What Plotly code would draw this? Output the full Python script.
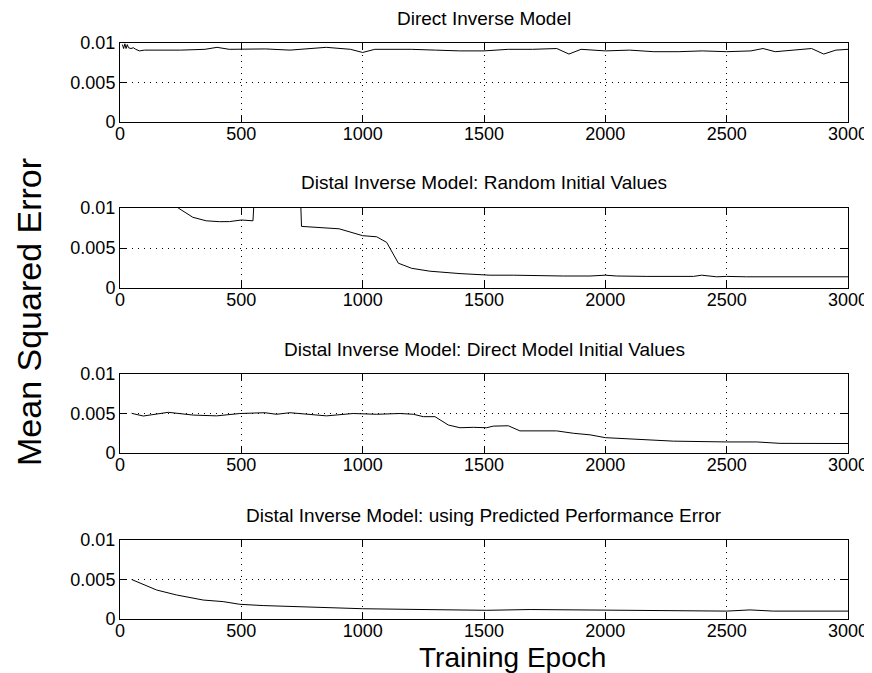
import plotly.graph_objects as go

# The page body adds an 8px offset; the figure is sized and laid out so that
# its pixels land where the reference shows them inside the 872x673 window.
OFF = 8
W, H = 872 - OFF, 673 - OFF

titles = [
    "Direct Inverse Model",
    "Distal Inverse Model: Random Initial Values",
    "Distal Inverse Model: Direct Model Initial Values",
    "Distal Inverse Model: using Predicted Performance Error",
]

x_direct = [10, 15, 20, 25, 30, 35, 45, 55, 65, 80, 100, 150, 250, 350, 400, 450, 500, 600, 700, 800,
            850, 950, 1000, 1050, 1200, 1300, 1400, 1500, 1600, 1700, 1800, 1850, 1900, 2000, 2100,
            2200, 2300, 2400, 2500, 2600, 2650, 2700, 2800, 2850, 2900, 2950, 3000]
y_direct = [0.0098, 0.0093, 0.0099, 0.0093, 0.0098, 0.0094, 0.0093, 0.0094, 0.0092, 0.0090, 0.0091,
            0.0091, 0.0091, 0.0092, 0.00945, 0.0092, 0.0092, 0.00925, 0.0091, 0.0093, 0.00945, 0.0092,
            0.0088, 0.0092, 0.0092, 0.0091, 0.0090, 0.0090, 0.0092, 0.0092, 0.0093, 0.0086, 0.0092,
            0.0090, 0.0091, 0.0089, 0.0089, 0.0090, 0.0089, 0.0090, 0.0093, 0.0089, 0.0092, 0.0093,
            0.0086, 0.0091, 0.0092]

x_random = [50, 100, 200, 240, 300, 355, 410, 451, 500, 548, 558, 650, 742, 748, 903, 1000, 1058,
            1099, 1147, 1202, 1277, 1401, 1525, 1621, 1827, 1937, 2000, 2047, 2171, 2363, 2397,
            2459, 2500, 2582, 3000]
y_random = [0.016, 0.013, 0.011, 0.0100, 0.00884, 0.0084, 0.00829, 0.0083, 0.0085, 0.0084, 0.014,
            0.015, 0.013, 0.0077, 0.0074, 0.00654, 0.0064, 0.0057, 0.0031, 0.00246, 0.0021, 0.0018,
            0.0016, 0.0016, 0.0015, 0.0015, 0.0016, 0.0015, 0.00145, 0.00145, 0.0016, 0.0014,
            0.00145, 0.0014, 0.0014]

x_directinit = [48, 96, 199, 302, 398, 494, 597, 645, 700, 782, 851, 961, 1058, 1154, 1209, 1250,
                1298, 1353, 1401, 1456, 1511, 1538, 1600, 1648, 1799, 1868, 1937, 2000, 2117, 2281,
                2500, 2624, 2720, 3000]
y_directinit = [0.00502, 0.00468, 0.00515, 0.0048, 0.0047, 0.0050, 0.0051, 0.0049, 0.0051, 0.0049,
                0.0047, 0.0050, 0.0049, 0.0050, 0.0049, 0.0046, 0.0046, 0.00354, 0.0032, 0.00325,
                0.0032, 0.0034, 0.00345, 0.0028, 0.0028, 0.0025, 0.0023, 0.00194, 0.00173, 0.0015,
                0.0014, 0.0014, 0.00122, 0.0012]

x_predicted = [48, 151, 233, 343, 425, 494, 590, 782, 1000, 1195, 1511, 1690, 2000, 2308, 2500,
               2596, 2692, 3000]
y_predicted = [0.0050, 0.00367, 0.00304, 0.0024, 0.0022, 0.00186, 0.0017, 0.00148, 0.0013, 0.00122,
               0.0011, 0.0012, 0.0011, 0.00105, 0.0010, 0.00115, 0.0010, 0.0010]

x_ticks = [0, 500, 1000, 1500, 2000, 2500, 3000]
y_ticks = [0, 0.005, 0.01]
y_tick_labels = ["0", "0.005", "0.01"]

series = [(x_direct, y_direct), (x_random, y_random), (x_directinit, y_directinit),
          (x_predicted, y_predicted)]

FONT = "Liberation Sans, Arial, Helvetica, sans-serif"

# target window-pixel geometry of each axes box (top, bottom)
boxes = [(43, 122), (208, 288), (374, 453), (540, 619)]
x_left, x_right = 120, 848


def px_x(v):
    return (v - OFF) / W


def px_y(v):
    return 1 - (v - OFF) / H


fig = go.Figure()
annotations = []
for i, ((xs, ys), (top, bot)) in enumerate(zip(series, boxes), start=1):
    fig.add_trace(go.Scatter(x=xs, y=ys, mode="lines", line=dict(color="black", width=1),
                             xaxis=f"x{i}", yaxis=f"y{i}", showlegend=False, hoverinfo="skip"))
    ax_common = dict(showline=True, linecolor="black", linewidth=1, mirror="ticks",
                     ticks="inside", ticklen=7, tickcolor="black", tickwidth=1,
                     showgrid=True, gridcolor="black", gridwidth=1, griddash="1px,5px",
                     zeroline=False, automargin=False,
                     tickfont=dict(family=FONT, size=18, color="black"))
    fig.layout[f"xaxis{i}"] = dict(domain=[px_x(x_left), px_x(x_right)], anchor=f"y{i}",
                                   range=[0, 3000], tickvals=x_ticks, ticklabelstandoff=-5,
                                   **ax_common)
    fig.layout[f"yaxis{i}"] = dict(domain=[px_y(bot), px_y(top)], anchor=f"x{i}",
                                   range=[0, 0.01], tickvals=y_ticks, ticktext=y_tick_labels,
                                   **ax_common)
    annotations.append(dict(text=titles[i - 1], x=px_x((x_left + x_right) / 2),
                            y=px_y(top - 25), xref="paper", yref="paper",
                            xanchor="center", yanchor="middle", showarrow=False,
                            font=dict(family=FONT, size=19, color="black")))

annotations.append(dict(text="Mean Squared Error", x=px_x(29), y=px_y(312), xref="paper",
                        yref="paper", xanchor="center", yanchor="middle", textangle=-90,
                        showarrow=False, font=dict(family=FONT, size=34, color="black")))
annotations.append(dict(text="Training Epoch", x=px_x(513), y=px_y(657), xref="paper",
                        yref="paper", xanchor="center", yanchor="middle",
                        showarrow=False, font=dict(family=FONT, size=28, color="black")))

fig.update_layout(width=W, height=H, margin=dict(l=0, r=0, t=0, b=0, autoexpand=False),
                  paper_bgcolor="white", plot_bgcolor="white", annotations=annotations)

fig.write_html("out.html")
